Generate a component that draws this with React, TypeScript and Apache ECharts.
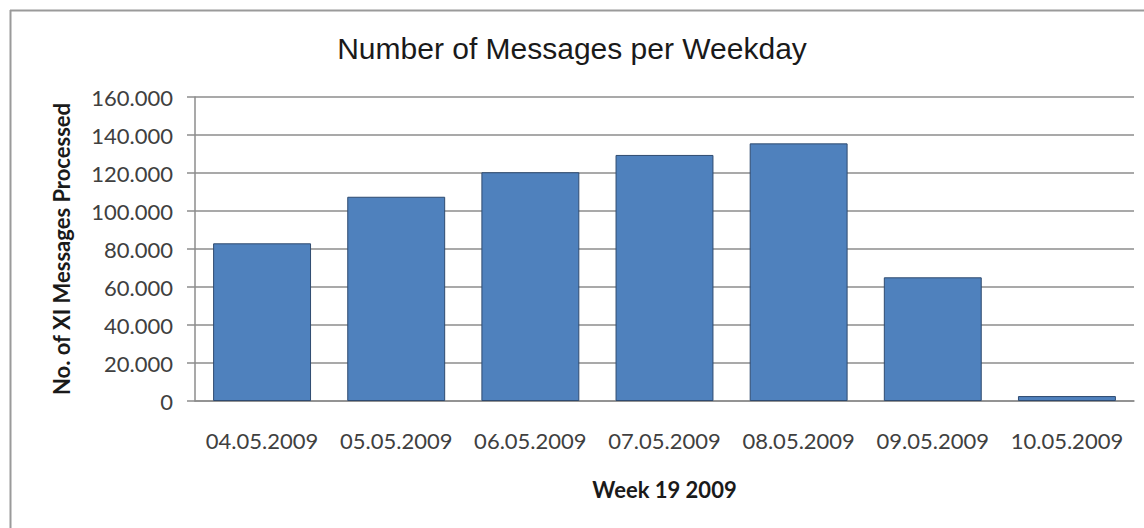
import React, { useEffect, useRef } from "react";
import * as echarts from "echarts";

const categories = ["04.05.2009", "05.05.2009", "06.05.2009", "07.05.2009", "08.05.2009", "09.05.2009", "10.05.2009"];
const messages = [83000, 107500, 120400, 129500, 135600, 65100, 2600];
const yTicks = [0, 20000, 40000, 60000, 80000, 100000, 120000, 140000, 160000];

const fmt = (v: number) => String(Math.round(v)).replace(/\B(?=(\d{3})+(?!\d))/g, ".");

export default function App() {
  const ref = useRef<HTMLDivElement>(null);
  useEffect(() => {
    if (!ref.current) return;
    const chart = echarts.init(ref.current, null, { renderer: "svg" });
    chart.setOption({
      animation: false,
      backgroundColor: "#ffffff",
      title: {
        text: "Number of Messages per Weekday",
        left: 567,
        textAlign: "center",
        top: 28,
        textStyle: { fontFamily: "Liberation Sans", fontSize: 30, fontWeight: "normal", color: "#1a1a1a" },
      },
      graphic: [
        { type: "line", shape: { x1: 10, y1: 10.5, x2: 1144, y2: 10.5 }, style: { stroke: "#9a9a9a", lineWidth: 2 } },
        { type: "line", shape: { x1: 10.5, y1: 10, x2: 10.5, y2: 528 }, style: { stroke: "#9a9a9a", lineWidth: 2 } },
      ],
      grid: { left: 195, right: 10, top: 97, bottom: 127 },
      xAxis: {
        type: "category",
        data: categories,
        name: "Week 19 2009",
        nameLocation: "middle",
        nameGap: 77,
        nameTextStyle: { fontFamily: "Lato", fontWeight: "bold", fontSize: 22, color: "#1a1a1a" },
        axisLine: { lineStyle: { color: "#8c8c8c", width: 1.5 } },
        axisTick: { show: false },
        axisLabel: { interval: 0, hideOverlap: false, margin: 28, fontFamily: "Lato", fontSize: 22, color: "#404040" },
      },
      yAxis: {
        type: "value",
        min: 0,
        max: 160000,
        interval: 20000,
        name: "No. of XI Messages Processed",
        nameLocation: "middle",
        nameRotate: 90,
        nameGap: 123,
        nameTextStyle: { fontFamily: "Lato", fontWeight: "bold", fontSize: 22, color: "#1a1a1a" },
        axisLine: { show: true, lineStyle: { color: "#8c8c8c", width: 1.5 } },
        axisTick: { show: true, length: 8, lineStyle: { color: "#8c8c8c", width: 1.5 } },
        splitLine: { lineStyle: { color: "#8c8c8c", width: 1.5 } },
        axisLabel: {
          margin: 22,
          fontFamily: "Lato",
          fontSize: 22,
          color: "#404040",
          formatter: (v: number) => (yTicks.includes(v) ? fmt(v) : ""),
        },
      },
      series: [
        {
          type: "bar",
          data: messages,
          barCategoryGap: "27%",
          itemStyle: { color: "#4f81bd", borderColor: "#2f4b70", borderWidth: 1 },
        },
      ],
    });
    return () => chart.dispose();
  }, []);
  return <div ref={ref} style={{ width: 1144, height: 528, position: "absolute", left: 0, top: 0 }} />;
}
